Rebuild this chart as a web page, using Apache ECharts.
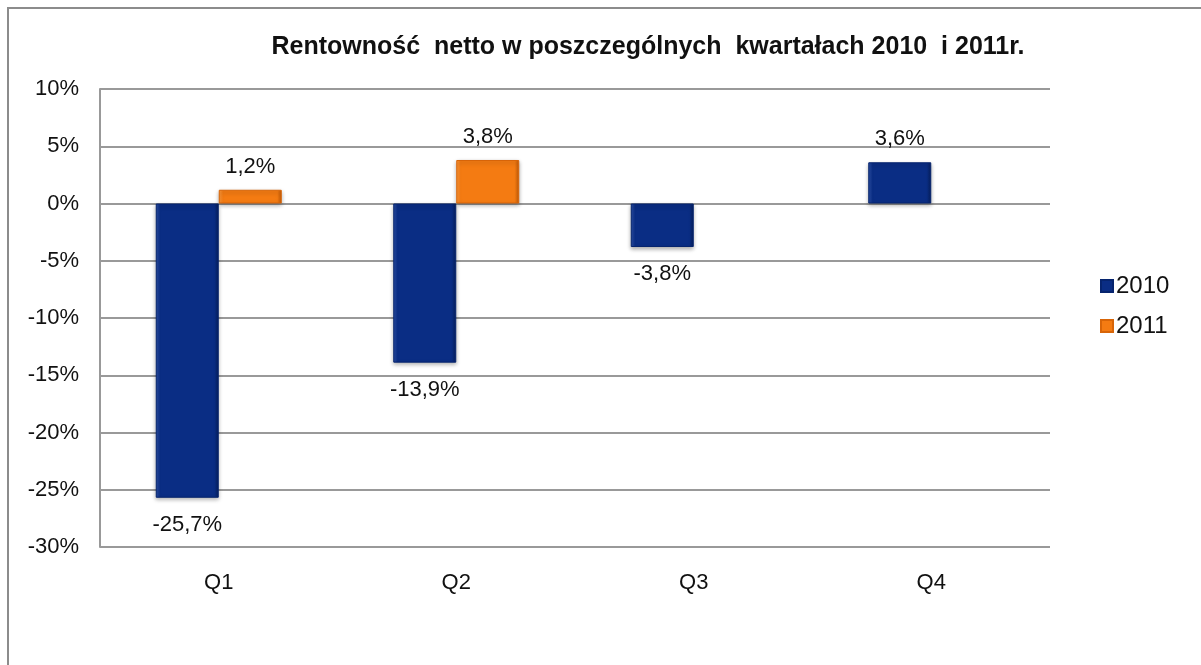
<!DOCTYPE html>
<html>
<head>
<meta charset="utf-8">
<script src="https://cdn.jsdelivr.net/npm/echarts@6/dist/echarts.min.js"></script>
<style>
  html, body { margin: 0; padding: 0; background: #fff; }
  #chart { width: 1201px; height: 665px; }
</style>
</head>
<body>
<div id="chart"></div>
<script>
// dane wykresu
const quarters = ['Q1', 'Q2', 'Q3', 'Q4'];
const values2010 = [-25.7, -13.9, -3.8, 3.6];
const values2011 = [1.2, 3.8, null, null];
const yTicks = [-30, -25, -20, -15, -10, -5, 0, 5, 10];

const fmt = v => String(v).replace('.', ',') + '%';

// etykiety nad dodatnimi, pod ujemnymi słupkami
function withLabels(arr) {
    return arr.map(v => v == null ? null : {
        value: v,
        label: { position: v < 0 ? 'bottom' : 'top', distance: v < 0 ? 16 : 12 }
    });
}

// lekki efekt fazowania krawędzi (poziomo)
function bevel(edge, mid, dark) {
    return new echarts.graphic.LinearGradient(0, 0, 1, 0, [
        { offset: 0, color: edge },
        { offset: 0.07, color: mid },
        { offset: 0.93, color: mid },
        { offset: 1, color: dark }
    ]);
}

let myChart = echarts.init(document.getElementById('chart'));
let option = {
    animation: false,
    textStyle: { fontFamily: 'Liberation Sans, Arial, sans-serif' },
    graphic: [{
        type: 'rect',
        shape: { x: 8, y: 8, width: 1300, height: 700 },
        style: { fill: 'none', stroke: '#8c8c8c', lineWidth: 2 },
        silent: true
    }],
    title: {
        text: 'Rentowność  netto w poszczególnych  kwartałach 2010  i 2011r.',
        left: 643,
        textAlign: 'center',
        top: 30,
        textStyle: { fontSize: 25, fontWeight: 'bold', color: '#111' }
    },
    legend: {
        orient: 'vertical',
        left: 1095,
        top: 269,
        itemWidth: 12,
        itemHeight: 12,
        itemGap: 16,
        icon: 'rect',
        textStyle: { fontSize: 24, color: '#111', padding: [0, 0, 0, -2] },
        data: ['2010', '2011']
    },
    grid: { left: 100, right: 151, top: 89, bottom: 118 },
    xAxis: {
        type: 'category',
        data: quarters,
        axisLine: { show: false },
        axisTick: { show: false },
        axisLabel: { fontSize: 22, color: '#111', margin: 25 }
    },
    yAxis: {
        type: 'value',
        min: yTicks[0],
        max: yTicks[yTicks.length - 1],
        interval: 5,
        axisLine: { show: true, lineStyle: { color: '#999', width: 2 } },
        axisTick: { show: false },
        axisLabel: { fontSize: 22, color: '#111', margin: 21, formatter: v => v + '%' },
        splitLine: { lineStyle: { color: '#999', width: 2 } }
    },
    series: [
        {
            name: '2010',
            type: 'bar',
            barWidth: 63,
            barGap: '0%',
            data: withLabels(values2010),
            itemStyle: {
                color: bevel('#2c50a8', '#0a2d84', '#061f5e'),
                borderColor: '#06246e',
                borderWidth: 1,
                shadowBlur: 4,
                shadowColor: 'rgba(0,0,0,0.3)',
                shadowOffsetY: 2
            },
            label: { show: true, fontSize: 22, color: '#111', formatter: p => fmt(p.value) }
        },
        {
            name: '2011',
            type: 'bar',
            barWidth: 63,
            data: withLabels(values2011),
            itemStyle: {
                color: bevel('#ff9a3c', '#f47b12', '#c35a05'),
                borderColor: '#d86508',
                borderWidth: 1,
                shadowBlur: 4,
                shadowColor: 'rgba(0,0,0,0.3)',
                shadowOffsetY: 2
            },
            label: { show: true, fontSize: 22, color: '#111', formatter: p => fmt(p.value) }
        }
    ]
};
myChart.setOption(option);
</script>
</body>
</html>
